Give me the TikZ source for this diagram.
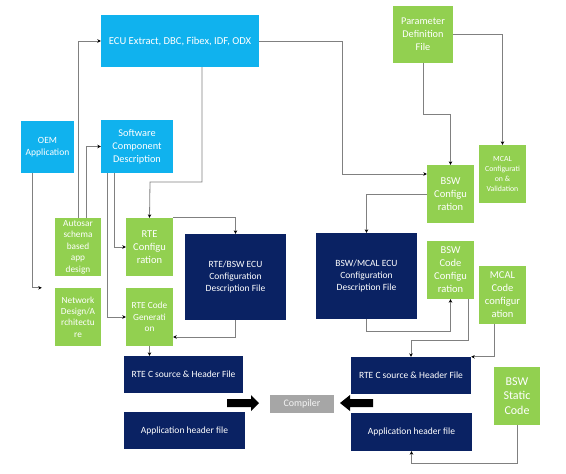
\documentclass[tikz,border=0pt]{standalone}
\usepackage{fontspec}
\setmainfont{Carlito}
\usetikzlibrary{arrows.meta}
\definecolor{cblue}{HTML}{10B2EE}
\definecolor{cgreen}{HTML}{92D050}
\definecolor{cnavy}{HTML}{0A2263}
\definecolor{cgray}{HTML}{A6A6A6}
\definecolor{cline}{HTML}{808080}
\tikzset{
  box/.style={inner sep=0pt, text=white, align=center},
  bluebox/.style={box, fill=cblue},
  greenbox/.style={box, fill=cgreen},
  navybox/.style={box, fill=cnavy},
  conn/.style={draw=cline, line width=0.8pt, -{Stealth[length=3.5pt,width=3.5pt,black]}},
  fs/.style 2 args={font=\fontsize{#1}{#2}\selectfont},
}
\newcommand{\bx}[7]{% name, style, x1, x2, y1, y2, text
  \node[#2, minimum width={(#4-#3)*1pt}, minimum height={(#6-#5)*1pt}] (#1) at ({(#3+#4)/2},{(#5+#6)/2}) {#7};}
\begin{document}
\begin{tikzpicture}[x=1pt,y=-1pt]
\useasboundingbox (0,0) rectangle (566,474);
\fill[white] (0,0) rectangle (566,474);
% boxes
\bx{ecu}{bluebox,fs={10.6}{12}}{101}{259}{15}{67}{ECU Extract, DBC, Fibex, IDF, ODX}
\bx{oem}{bluebox,fs={9.5}{11.7}}{21}{74}{121}{173}{OEM\\Application}
\bx{swc}{bluebox,fs={10.3}{12.8}}{101}{173}{120}{173}{Software\\Component\\Description}
\bx{param}{greenbox,fs={10.3}{12.8}}{393}{453}{6}{63}{Parameter\\Definition\\File}
\bx{mcalv}{greenbox,fs={7.8}{9.7}}{479}{526}{145}{203}{MCAL\\Configurati\\on \&\\Validation}
\bx{bswc}{greenbox,fs={10.5}{13}}{427}{474}{165}{223}{BSW\\Configu\\ration}
\bx{auto}{greenbox,fs={9.3}{11.5}}{55}{101}{218}{276}{Autosar\\schema\\based\\app\\design}
\bx{rtec}{greenbox,fs={10.5}{13}}{126}{173}{218}{276}{RTE\\Configu\\ration}
\bx{rtebsw}{navybox,fs={9.5}{11.7}}{185}{286}{234}{320}{RTE/BSW ECU\\Configuration\\Description File}
\bx{bswmcal}{navybox,fs={9.5}{11.7}}{316}{417}{233}{319}{BSW/MCAL ECU\\Configuration\\Description File}
\bx{bswcc}{greenbox,fs={10.5}{13}}{427}{474}{241}{299}{BSW\\Code\\Configu\\ration}
\bx{mcalcc}{greenbox,fs={10.5}{13}}{479}{526}{266}{324}{MCAL\\Code\\configur\\ation}
\bx{net}{greenbox,fs={9.3}{11.3}}{55}{101}{288}{346}{Network\\Design/A\\rchitectu\\re}
\bx{rtecg}{greenbox,fs={9.3}{11.3}}{126}{173}{288}{346}{RTE Code\\Generati\\on}
\bx{rtesrcL}{navybox,fs={9.5}{11.7}}{124}{243}{356}{393}{RTE C source \& Header File}
\bx{rtesrcR}{navybox,fs={9.5}{11.7}}{351}{471}{357}{394}{RTE C source \& Header File}
\bx{comp}{box,fill=cgray,text=white!88!cgray,fs={10}{12}}{270}{334}{395}{413}{Compiler}
\bx{apphL}{navybox,fs={9.5}{11.7}}{124}{245}{412}{449}{Application header file}
\bx{apphR}{navybox,fs={9.5}{11.7}}{351}{472}{413}{451}{Application header file}
\bx{bswsc}{greenbox,fs={12}{14.5}}{494}{540}{367}{425}{BSW\\Static\\Code}
% connectors
\draw[conn] ([xshift=22pt]ecu.south) |- (150,182) -- (rtec.north);
\draw[conn] (auto.north) |- (ecu.west);
\draw[conn] ([xshift=8pt]auto.north) |- (swc.west);
\draw[conn] ([xshift=-15.5pt]oem.south) |- ([xshift=-13pt]net.north west);
\draw[conn] ([xshift=-23pt]swc.south) |- (rtec.west);
\draw[conn] ([xshift=-30pt]swc.south) |- (rtecg.west);
\draw[conn] (rtec.north east) -| (rtebsw.north);
\draw[conn] (rtebsw.south) |- ([yshift=-20pt]rtecg.east);
\draw[conn] (rtecg.south) -- (rtecg.south |- rtesrcL.north);
\draw[conn] (ecu.east) -| (342,174) -- ([yshift=20pt]bswc.west);
\draw[conn] (param.south) -- (423,114) -| (bswc.north);
\draw[conn] (param.east) -| (mcalv.north);
\draw[conn] (bswc.west) -| (bswmcal.north);
\draw[conn] (bswmcal.south) -- (366.5,331) -| (bswcc.south);
\draw[conn] ([xshift=17.5pt]bswcc.south) |- (411,340) -- (rtesrcR.north);
\draw[conn] ([xshift=-8.5pt]mcalcc.south) |- (rtesrcR.north east);
\draw[conn] (bswsc.south) |- (411.5,463) -- (apphR.south);
% big arrows
\fill[black] (227,399) -- (251,399) -- (251,395) -- (259,403) -- (251,411) -- (251,407) -- (227,407) -- cycle;
\fill[black] (373,399) -- (350,399) -- (350,395) -- (340,403) -- (350,411) -- (350,407) -- (373,407) -- cycle;
\end{tikzpicture}
\end{document}
